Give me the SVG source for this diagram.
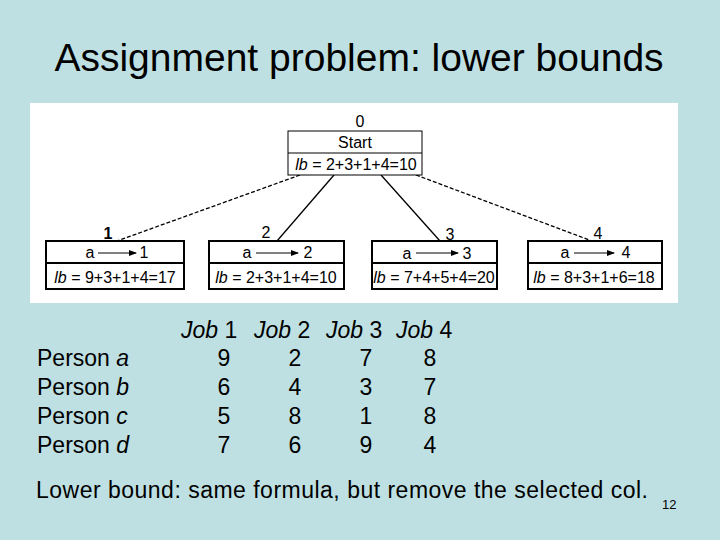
<svg xmlns="http://www.w3.org/2000/svg" width="720" height="540" viewBox="0 0 720 540">
<style>
.t{font-family:"Liberation Sans",Arial,sans-serif;fill:#000}
.b{fill:#fff;stroke:#000;stroke-width:2}
.s{font-family:"Liberation Sans",Arial,sans-serif;font-size:16px;text-anchor:middle}
.c{stroke:#000;stroke-width:1.3;fill:none}
.n{text-anchor:middle}
</style>
<defs><marker id="ar" markerWidth="8" markerHeight="8" refX="7" refY="4" orient="auto" markerUnits="userSpaceOnUse"><path d="M0,1 L8,4 L0,7z"/></marker></defs>
<rect width="720" height="540" fill="#bfe0e3"/>
<text class="t" x="359" y="71" font-size="39" text-anchor="middle">Assignment problem: lower bounds</text>
<rect x="30" y="103" width="648" height="200" fill="#fff"/>
<g id="connectors">
<line class="c" x1="300" y1="175" x2="117" y2="241" stroke-dasharray="4,2"/>
<line class="c" x1="334" y1="175" x2="277" y2="241"/>
<line class="c" x1="381" y1="175" x2="440" y2="241"/>
<line class="c" x1="416" y1="175" x2="592" y2="241" stroke-dasharray="4,2"/>
</g>
<g id="n0"><text class="s" x="360" y="127">0</text><rect x="288" y="131" width="134" height="44" fill="#fff" stroke="#000"/><line x1="288" y1="153" x2="422" y2="153" stroke="#000"/><text class="s" x="355" y="148" font-size="13">Start</text><text class="s" x="356" y="170"><tspan font-style="italic">lb</tspan> = 2+3+1+4=10</text></g>
<g id="n1"><text class="s" x="108" y="239" font-weight="bold">1</text><rect class="b" x="46" y="241" width="138" height="48"/><line x1="46" y1="263" x2="184" y2="263" stroke="#000" stroke-width="2"/><text class="s" x="90" y="258">a</text><line x1="98" y1="253" x2="136" y2="253" stroke="#000" marker-end="url(#ar)"/><text class="s" x="144" y="258">1</text><text class="s" x="115" y="283"><tspan font-style="italic">lb</tspan> = 9+3+1+4=17</text></g>
<g id="n2"><text class="s" x="266" y="238">2</text><rect class="b" x="209" y="241" width="135" height="48"/><line x1="209" y1="263" x2="344" y2="263" stroke="#000" stroke-width="2"/><text class="s" x="247" y="258">a</text><line x1="256" y1="253" x2="298" y2="253" stroke="#000" marker-end="url(#ar)"/><text class="s" x="308" y="258">2</text><text class="s" x="276" y="283"><tspan font-style="italic">lb</tspan> = 2+3+1+4=10</text></g>
<g id="n3"><text class="s" x="450" y="240">3</text><rect class="b" x="372" y="241" width="125" height="48"/><line x1="372" y1="263" x2="497" y2="263" stroke="#000" stroke-width="2"/><text class="s" x="407" y="259">a</text><line x1="416" y1="253" x2="458" y2="253" stroke="#000" marker-end="url(#ar)"/><text class="s" x="467" y="259">3</text><text class="s" x="434" y="283"><tspan font-style="italic">lb</tspan> = 7+4+5+4=20</text></g>
<g id="n4"><text class="s" x="598" y="239">4</text><rect class="b" x="528" y="241" width="134" height="48"/><line x1="528" y1="263" x2="662" y2="263" stroke="#000" stroke-width="2"/><text class="s" x="565" y="258">a</text><line x1="574" y1="253" x2="614" y2="253" stroke="#000" marker-end="url(#ar)"/><text class="s" x="626" y="258">4</text><text class="s" x="594" y="283"><tspan font-style="italic">lb</tspan> = 8+3+1+6=18</text></g>
<g class="t" font-size="23">
<text x="181" y="338"><tspan font-style="italic">Job</tspan> 1</text>
<text x="254" y="338"><tspan font-style="italic">Job</tspan> 2</text>
<text x="326" y="338"><tspan font-style="italic">Job</tspan> 3</text>
<text x="396" y="338"><tspan font-style="italic">Job</tspan> 4</text>
<text x="37" y="366">Person <tspan font-style="italic">a</tspan></text>
<text x="37" y="395">Person <tspan font-style="italic">b</tspan></text>
<text x="37" y="424">Person <tspan font-style="italic">c</tspan></text>
<text x="37" y="453">Person <tspan font-style="italic">d</tspan></text>
<g class="n"><text x="224" y="366">9</text><text x="295" y="366">2</text><text x="366" y="366">7</text><text x="430" y="366">8</text>
<text x="224" y="395">6</text><text x="295" y="395">4</text><text x="366" y="395">3</text><text x="430" y="395">7</text>
<text x="224" y="424">5</text><text x="295" y="424">8</text><text x="366" y="424">1</text><text x="430" y="424">8</text>
<text x="224" y="453">7</text><text x="295" y="453">6</text><text x="366" y="453">9</text><text x="430" y="453">4</text></g>
<text x="36" y="498" textLength="612">Lower bound: same formula, but remove the selected col.</text>
</g>
<text class="t" x="662" y="509" font-size="13">12</text>
</svg>
